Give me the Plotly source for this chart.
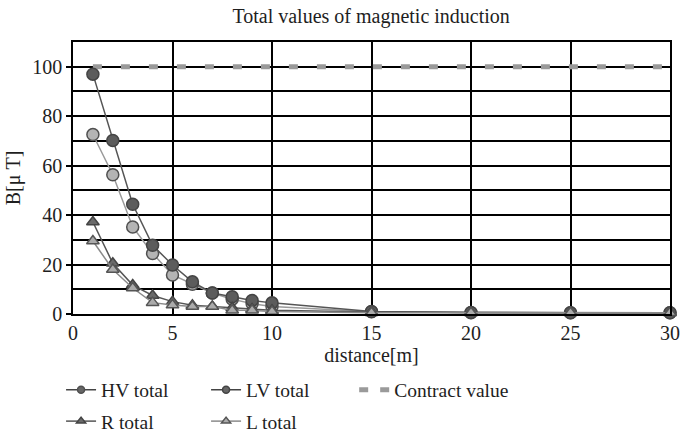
import plotly.graph_objects as go

# distance from the source [m]
distance = [1, 2, 3, 4, 5, 6, 7, 8, 9, 10, 15, 20, 25, 30]

# magnetic induction B [µT]
hv_total = [72.6, 56.3, 35.2, 24.5, 15.8, 12.0, 8.5, 6.0, 4.2, 3.0, 0.9, 0.5, 0.5, 0.5]
lv_total = [97.0, 70.2, 44.4, 27.8, 19.8, 13.0, 8.5, 7.0, 5.5, 4.5, 1.0, 0.6, 0.5, 0.5]
r_total = [37.2, 20.5, 11.7, 7.5, 5.0, 3.5, 3.0, 2.5, 2.0, 1.5, 0.8, 0.5, 0.5, 0.5]
l_total = [29.5, 18.0, 10.5, 4.6, 3.6, 3.0, 3.0, 1.5, 1.5, 1.0, 0.5, 0.5, 0.5, 0.5]
contract_value = [100] * len(distance)

FONT = "Liberation Serif, Tinos, Times New Roman, DejaVu Serif, serif"
INK = "#1e1e1e"

series = [
    # name, values, marker symbol, fill, outline, line colour, legend group
    ("HV total", hv_total, "circle", "#b4b4b4", "#505050", "#9a9a9a", "legend"),
    ("LV total", lv_total, "circle", "#5c5c5c", "#444444", "#555555", "legend"),
    ("R total", r_total, "triangle-up", "#6a6a6a", "#444444", "#555555", "legend2"),
    ("L total", l_total, "triangle-up", "#ababab", "#555555", "#8a8a8a", "legend2"),
]

fig = go.Figure()

# contract limit drawn first so the measured curves sit on top
fig.add_trace(go.Scatter(
    x=distance, y=contract_value, mode="lines", showlegend=False,
    line=dict(color="#9a9a9a", width=5, dash="9px,19px"),
))

for name, vals, sym, fill, edge, lc, _ in series:
    fig.add_trace(go.Scatter(
        x=distance, y=vals, mode="lines+markers", showlegend=False,
        cliponaxis=False,
        line=dict(color=lc, width=1.5),
        marker=dict(symbol=sym, size=12 if sym == "circle" else 11,
                    color=fill, line=dict(color=edge, width=1.5)),
    ))

# legend entries with small symbols
for name, vals, sym, fill, edge, lc, lg in series:
    fig.add_trace(go.Scatter(
        x=[None], y=[None], mode="lines+markers", name=name, legend=lg,
        line=dict(color=lc if lg == "legend2" else "#444444", width=1.5),
        marker=dict(symbol=sym, size=7 if sym == "circle" else 8,
                    color=fill if sym != "circle" else "#666666",
                    line=dict(color=edge, width=1.5)),
    ))

fig.add_trace(go.Scatter(
    x=[None], y=[None], mode="lines", name="Contract value", legend="legend3",
    line=dict(color="#9a9a9a", width=5, dash="9px,12px"),
))

legend_common = dict(
    orientation="h", xanchor="left", yanchor="middle",
    font=dict(family=FONT, size=19.5, color=INK),
    bgcolor="rgba(0,0,0,0)", itemwidth=30, tracegroupgap=0,
)

fig.update_layout(
    width=681, height=441,
    margin=dict(l=73, r=11, t=42, b=127, autoexpand=False),
    paper_bgcolor="white", plot_bgcolor="white",
    font=dict(family=FONT, size=20, color=INK),
    title=dict(text="Total values of magnetic induction", x=0.545, xanchor="center",
               y=0.963, yanchor="middle", font=dict(family=FONT, size=20, color=INK)),
    legend=dict(x=-0.02, y=-0.28, entrywidth=100, entrywidthmode="pixels", **legend_common),
    legend2=dict(x=-0.02, y=-0.395, entrywidth=100, entrywidthmode="pixels", **legend_common),
    legend3=dict(x=0.471, y=-0.28, **legend_common),
    xaxis=dict(
        range=[0, 30], tick0=0, dtick=5, showgrid=True, gridcolor="black", gridwidth=1.5,
        showline=True, linecolor="black", linewidth=1.5, mirror=True, zeroline=False,
        ticks="", tickfont=dict(family=FONT, size=20, color=INK), automargin=False,
        title=dict(text="distance[m]", standoff=0, font=dict(family=FONT, size=20, color=INK)),
    ),
    yaxis=dict(
        range=[0, 110], tick0=0, dtick=20, showgrid=True, gridcolor="black", gridwidth=1.5,
        showline=True, linecolor="black", linewidth=1.5, mirror=True, zeroline=False,
        ticks="outside", ticklen=5, tickcolor="black", tickwidth=1.5, automargin=False,
        tickfont=dict(family=FONT, size=20, color=INK),
        minor=dict(dtick=10, tick0=0, showgrid=True, gridcolor="black", gridwidth=1.5),
        title=dict(text="B[\u03bc T]", standoff=6, font=dict(family=FONT, size=20, color=INK)),
    ),
)

fig.write_html("out.html")
